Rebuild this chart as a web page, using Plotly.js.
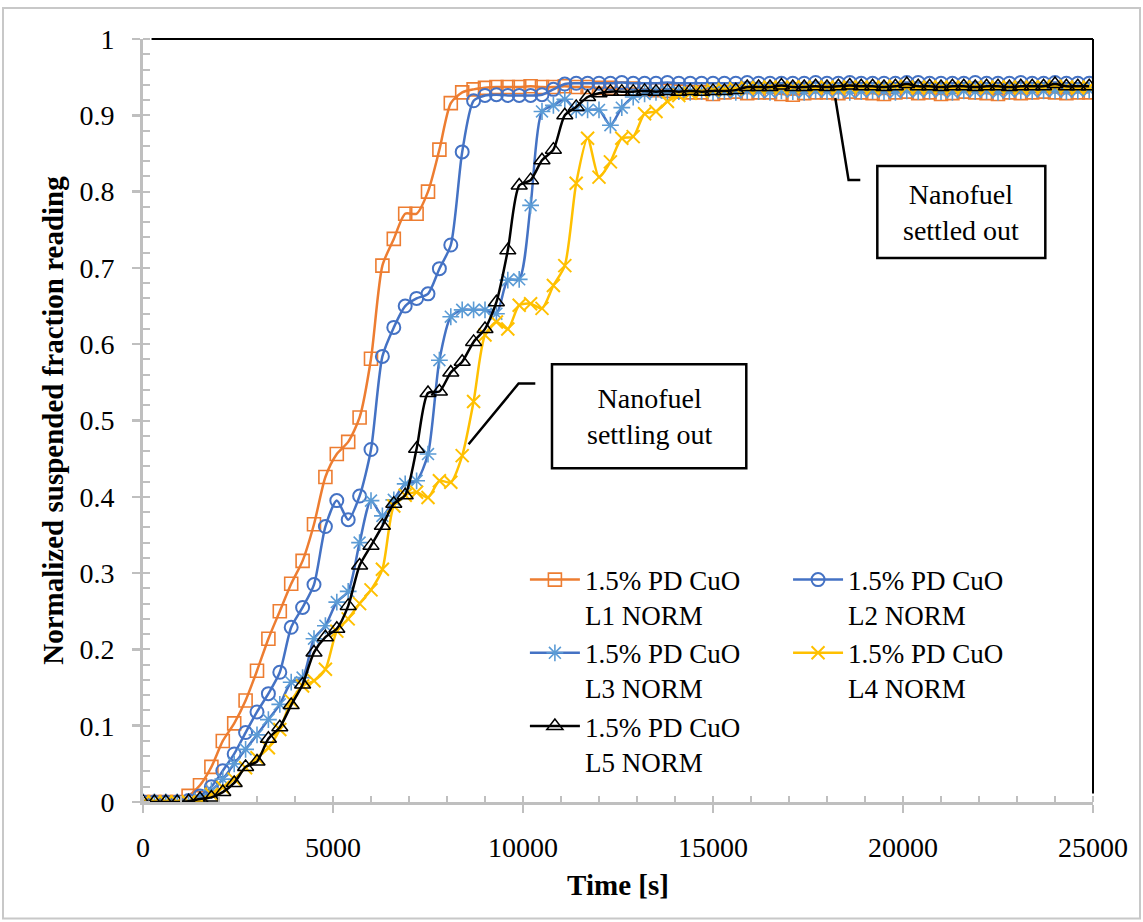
<!DOCTYPE html>
<html><head><meta charset="utf-8">
<script src="https://cdn.plot.ly/plotly-3.0.1.min.js"></script>
<style>html,body{margin:0;padding:0;background:#fff}</style>
</head><body>
<div id="chart" style="width:1143px;height:922px"></div>
<script>
const timeS = [0,300,600,900,1200,1500,1800,2100,2400,2700,3000,3300,3600,3900,4200,4500,4800,5100,5400,5700,
  6000,6300,6600,6900,7200,7500,7800,8100,8400,8700,9000,9300,9600,9900,10200,10500,10800,11100,11400,11700,
  12000,12300,12600,12900,13200,13500,13800,14100,14400,14700,15000,15300,15600,15900,16200,16500,16800,17100,17400,17700,
  18000,18300,18600,18900,19200,19500,19800,20100,20400,20700,21000,21300,21600,21900,22200,22500,22800,23100,23400,23700,
  24000,24300,24600,24900];

const seriesNames = ["1.5% PD CuO<br>L1 NORM","1.5% PD CuO<br>L2 NORM","1.5% PD CuO<br>L3 NORM","1.5% PD CuO<br>L4 NORM","1.5% PD CuO<br>L5 NORM"];

const l1Norm = [0,0,0,0,0.008,0.022,0.046,0.08,0.103,0.133,
  0.172,0.214,0.25,0.286,0.316,0.364,0.426,0.456,0.472,0.504,
  0.581,0.703,0.738,0.771,0.771,0.80,0.855,0.916,0.930,0.934,
  0.936,0.937,0.937,0.937,0.938,0.937,0.937,0.938,0.937,0.937,
  0.936,0.936,0.935,0.935,0.934,0.933,0.932,0.931,0.93,0.93,
  0.928,0.93,0.931,0.929,0.93,0.93,0.928,0.927,0.929,0.93,
  0.93,0.929,0.931,0.93,0.929,0.928,0.93,0.931,0.929,0.93,
  0.928,0.929,0.931,0.93,0.929,0.928,0.93,0.929,0.93,0.931,
  0.93,0.929,0.93,0.93];

const l2Norm = [0,0,0,0,0.002,0.008,0.020,0.041,0.063,0.091,
  0.118,0.142,0.170,0.229,0.255,0.285,0.361,0.395,0.370,0.401,
  0.462,0.584,0.622,0.650,0.660,0.666,0.699,0.730,0.852,0.919,
  0.926,0.927,0.926,0.926,0.926,0.927,0.934,0.941,0.942,0.942,
  0.942,0.942,0.943,0.942,0.942,0.942,0.943,0.942,0.942,0.942,
  0.942,0.942,0.942,0.943,0.942,0.942,0.942,0.942,0.942,0.943,
  0.942,0.942,0.943,0.942,0.942,0.942,0.942,0.943,0.943,0.942,
  0.942,0.942,0.942,0.943,0.942,0.942,0.942,0.943,0.942,0.942,
  0.943,0.942,0.942,0.942];

const l3Norm = [0,0,0,0,0,0.004,0.015,0.03,0.05,0.069,
  0.088,0.108,0.128,0.157,0.163,0.214,0.231,0.262,0.276,0.340,
  0.395,0.375,0.396,0.417,0.421,0.456,0.579,0.636,0.645,0.645,
  0.645,0.640,0.684,0.685,0.782,0.905,0.913,0.921,0.907,0.907,
  0.907,0.887,0.910,0.924,0.928,0.93,0.93,0.931,0.93,0.931,
  0.93,0.931,0.93,0.932,0.931,0.93,0.932,0.931,0.93,0.932,
  0.931,0.932,0.93,0.931,0.932,0.931,0.93,0.932,0.931,0.932,
  0.931,0.93,0.932,0.931,0.932,0.93,0.931,0.932,0.931,0.932,
  0.932,0.931,0.932,0.933];

const l4Norm = [0,0,0,0,0,0,0.01,0.019,0.03,0.045,
  0.058,0.071,0.095,0.1325,0.152,0.159,0.174,0.224,0.24,0.26,
  0.278,0.305,0.388,0.402,0.406,0.399,0.421,0.419,0.454,0.525,
  0.612,0.629,0.620,0.651,0.653,0.647,0.677,0.703,0.811,0.870,
  0.819,0.839,0.870,0.872,0.902,0.905,0.918,0.926,0.929,0.931,
  0.933,0.934,0.935,0.936,0.936,0.937,0.936,0.937,0.937,0.936,
  0.937,0.936,0.937,0.937,0.936,0.937,0.938,0.937,0.936,0.937,
  0.937,0.936,0.937,0.937,0.936,0.937,0.937,0.936,0.937,0.937,
  0.938,0.937,0.936,0.937];

const l5Norm = [0,0,0,0,0.001,0.004,0.006,0.013,0.025,0.046,
  0.053,0.083,0.098,0.127,0.154,0.196,0.216,0.227,0.257,0.31,
  0.336,0.362,0.391,0.402,0.463,0.536,0.538,0.563,0.577,0.603,
  0.620,0.655,0.723,0.808,0.815,0.841,0.855,0.900,0.911,0.924,
  0.929,0.931,0.931,0.931,0.932,0.931,0.932,0.931,0.932,0.931,
  0.932,0.932,0.933,0.937,0.937,0.937,0.939,0.937,0.937,0.938,
  0.937,0.938,0.939,0.938,0.938,0.937,0.938,0.941,0.938,0.938,
  0.937,0.938,0.938,0.937,0.938,0.938,0.937,0.938,0.938,0.938,
  0.941,0.938,0.938,0.938];

const xTickVals = [0,5000,10000,15000,20000,25000];
const yTickVals = [0,0.1,0.2,0.3,0.4,0.5,0.6,0.7,0.8,0.9,1];
const calloutTexts = ["Nanofuel<br>settling out","Nanofuel<br>settled out"];

const FONT = '"Liberation Serif", "Times New Roman", Times, serif';
const SMOOTH = 0.7;

function trace(name, y, lineColor, sym, mColor, mSize, mWidth, legendId) {
  return {
    x: timeS, y: y, name: name, type: 'scatter', mode: 'lines+markers',
    legend: legendId,
    line: {color: lineColor, width: 2.5, shape: 'spline', smoothing: SMOOTH},
    marker: {symbol: sym, size: mSize, color: mColor, line: {color: mColor, width: mWidth}}
  };
}

const data = [
  trace(seriesNames[0], l1Norm, '#ED7D31', 'square-open', '#ED7D31', 13, 1.6, 'legend'),
  trace(seriesNames[1], l2Norm, '#4472C4', 'circle-open', '#4472C4', 13, 2, 'legend2'),
  trace(seriesNames[2], l3Norm, '#4472C4', 'asterisk-open', '#5B9BD5', 14, 1.6, 'legend'),
  trace(seriesNames[3], l4Norm, '#FFC000', 'x-thin-open', '#FFC000', 13, 2, 'legend2'),
  trace(seriesNames[4], l5Norm, '#000000', 'triangle-up-open', '#000000', 14, 1.5, 'legend')
];

const axisGray = '#BFBFBF';
const layout = {
  width: 1143, height: 922,
  margin: {l: 143, r: 50, t: 39, b: 120},
  paper_bgcolor: '#fff', plot_bgcolor: '#fff',
  font: {family: FONT, color: '#000', size: 28},
  showlegend: true,
  xaxis: {
    range: [0, 25000], tickvals: xTickVals, tickformat: 'd',
    showgrid: false, zeroline: false, showline: true, linecolor: axisGray, linewidth: 3,
    ticks: 'outside', ticklen: 8, tickwidth: 2.5, tickcolor: axisGray,
    minor: {dtick: 1000, ticks: 'inside', ticklen: 6, tickwidth: 2, tickcolor: axisGray, showgrid: false},
    tickfont: {family: FONT, size: 28, color: '#000'}, ticklabelstandoff: 10,
    title: {text: '<b>Time [s]</b>', font: {family: FONT, size: 29, color: '#000'}, standoff: 14},
    automargin: false
  },
  yaxis: {
    range: [0, 1], tickvals: yTickVals,
    showgrid: false, zeroline: false, showline: true, linecolor: axisGray, linewidth: 3,
    ticks: 'outside', ticklen: 8, tickwidth: 2.5, tickcolor: axisGray,
    minor: {dtick: 0.02, ticks: 'inside', ticklen: 7, tickwidth: 2, tickcolor: axisGray, showgrid: false},
    tickfont: {family: FONT, size: 28, color: '#000'}, ticklabelstandoff: 12,
    title: {text: '<b>Normalized suspended fraction reading</b>', font: {family: FONT, size: 29, color: '#000'}, standoff: 8},
    automargin: false
  },
  xaxis2: {overlaying: 'x', anchor: 'y', side: 'bottom', range: [0, 25000], tickvals: xTickVals,
    showticklabels: false, showgrid: false, zeroline: false, showline: false,
    ticks: 'inside', ticklen: 8, tickwidth: 2.5, tickcolor: axisGray},
  yaxis2: {overlaying: 'y', anchor: 'x', side: 'left', range: [0, 1], tickvals: yTickVals,
    showticklabels: false, showgrid: false, zeroline: false, showline: false,
    ticks: 'inside', ticklen: 8, tickwidth: 2.5, tickcolor: axisGray},
  legend: {x: 0.402, y: 0.323, xanchor: 'left', yanchor: 'top', bgcolor: 'rgba(0,0,0,0)',
    font: {family: FONT, size: 27, color: '#000'}, valign: 'top', itemwidth: 50, tracegroupgap: 0, traceorder: 'normal'},
  legend2: {x: 0.679, y: 0.323, xanchor: 'left', yanchor: 'top', bgcolor: 'rgba(0,0,0,0)',
    font: {family: FONT, size: 27, color: '#000'}, valign: 'top', itemwidth: 50, tracegroupgap: 0, traceorder: 'normal'},
  shapes: [
    {type: 'rect', xref: 'paper', yref: 'paper', x0: (3-143)/950, x1: (1140-143)/950,
      y0: (801.5-918)/762.5, y1: (801.5-8)/762.5, line: {color: '#C8C8C8', width: 2}, layer: 'below'},
    {type: 'line', xref: 'x domain', yref: 'y domain', x0: 0.009, x1: 1, y0: 1, y1: 1, line: {color: '#000', width: 2}},
    {type: 'line', xref: 'x domain', yref: 'y domain', x0: 1, x1: 1, y0: 0.011, y1: 1, line: {color: '#000', width: 2}},
    {type: 'rect', xref: 'x', yref: 'y', x0: 10763, x1: 15876, y0: 0.4374, y1: 0.5738, line: {color: '#000', width: 2.5}, fillcolor: '#fff'},
    {type: 'rect', xref: 'x', yref: 'y', x0: 19324, x1: 23745, y0: 0.713, y1: 0.8334, line: {color: '#000', width: 2.5}, fillcolor: '#fff'},
    {type: 'path', xref: 'x', yref: 'y', path: 'M 10324,0.5485 L 9884,0.5485 L 8568,0.4689', line: {color: '#000', width: 2.5}},
    {type: 'path', xref: 'x', yref: 'y', path: 'M 18876,0.8151 L 18568,0.8151 L 18218,0.9226', line: {color: '#000', width: 2.5}}
  ],
  annotations: [
    {xref: 'x', yref: 'y', x: 13320, y: 0.5056, text: calloutTexts[0], showarrow: false,
      font: {family: FONT, size: 28, color: '#000'}, align: 'center'},
    {xref: 'x', yref: 'y', x: 21534, y: 0.773, text: calloutTexts[1], showarrow: false,
      font: {family: FONT, size: 28, color: '#000'}, align: 'center'}
  ]
};

Plotly.newPlot('chart', data, layout, {displayModeBar: false, staticPlot: true});
</script>
</body></html>
